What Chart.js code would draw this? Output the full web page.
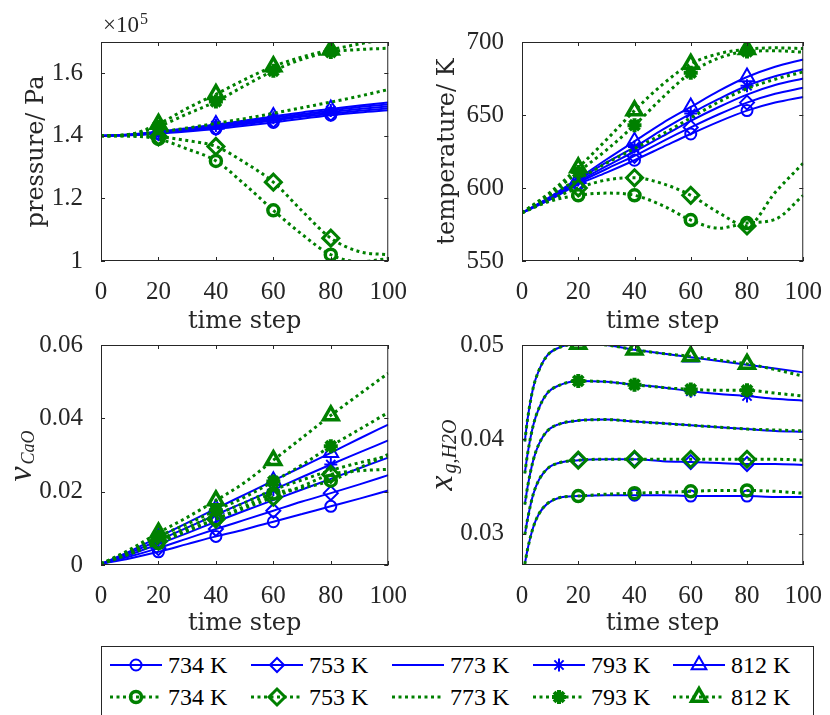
<!DOCTYPE html>
<html>
<head>
<meta charset="utf-8">
<title>Decomposition runs</title>
<script src="https://cdn.jsdelivr.net/npm/chart.js@4.4.1/dist/chart.umd.min.js"></script>
<style>
  body { margin: 0; width: 830px; height: 715px; position: relative; overflow: hidden; background: #fff; }
  canvas.plot { position: absolute; }
  #legendBox { position: absolute; left: 101px; top: 646px; width: 713px; height: 90px; border: 1px solid #262626; box-sizing: border-box; background: #fff; }
  .item { position: absolute; height: 30px; display: flex; align-items: center; font: 24px "Liberation Serif", serif; color: #000; white-space: nowrap; }
  .item canvas { margin-right: 6px; }
</style>
</head>
<body>
<canvas id="cPressure" class="plot"></canvas>
<canvas id="cTemp" class="plot"></canvas>
<canvas id="cNu" class="plot"></canvas>
<canvas id="cXg" class="plot"></canvas>
<div id="legendBox"></div>
<script>
// ---- data ----
const TEMPS = ['734 K', '753 K', '773 K', '793 K', '812 K'];
const STEPS = [0, 10, 20, 30, 40, 50, 60, 70, 80, 90, 100];
const STEPS_XG = [1, 2, 4, 6, 9, 13, 20, 30, 40, 50, 60, 70, 80, 90, 100];
const MARKER_STEPS = [20, 40, 60, 80];

const X_TICKS = [0, 20, 40, 60, 80, 100];
const P_TICKS = [1, 1.2, 1.4, 1.6];
const T_TICKS = [550, 600, 650, 700];
const NU_TICKS = [0, 0.02, 0.04, 0.06];
const XG_TICKS = [0.03, 0.04, 0.05];

// pressure in 1e5 Pa, one row per temperature (734, 753, 773, 793, 812 K)
const pressureBlue = [
  [1.400, 1.402, 1.407, 1.414, 1.422, 1.432, 1.443, 1.455, 1.466, 1.475, 1.482],
  [1.400, 1.403, 1.409, 1.417, 1.426, 1.437, 1.449, 1.461, 1.471, 1.480, 1.488],
  [1.400, 1.403, 1.410, 1.419, 1.430, 1.441, 1.453, 1.465, 1.476, 1.486, 1.494],
  [1.400, 1.404, 1.412, 1.422, 1.433, 1.445, 1.458, 1.470, 1.481, 1.492, 1.500],
  [1.400, 1.404, 1.413, 1.424, 1.436, 1.449, 1.462, 1.475, 1.486, 1.497, 1.507]
];
const pressureGreen = [
  [1.400, 1.399, 1.390, 1.358, 1.320, 1.245, 1.162, 1.085, 1.020, 0.998, 1.008],
  [1.400, 1.400, 1.397, 1.385, 1.366, 1.315, 1.252, 1.160, 1.073, 1.030, 1.020],
  [1.400, 1.403, 1.412, 1.425, 1.440, 1.455, 1.472, 1.490, 1.508, 1.527, 1.548],
  [1.400, 1.404, 1.430, 1.470, 1.510, 1.560, 1.608, 1.645, 1.668, 1.676, 1.680],
  [1.400, 1.405, 1.438, 1.488, 1.533, 1.580, 1.622, 1.652, 1.675, 1.694, 1.710]
];

// temperature in K
const tempBlue = [
  [583, 592, 602.5, 610.5, 619, 628, 637, 645.5, 653, 658.5, 662.4],
  [583, 592.5, 603.5, 613, 622, 632, 641.5, 650.5, 658.5, 664.5, 668.6],
  [583, 593, 604.5, 615, 625, 635.5, 646, 655.5, 664, 670.5, 675],
  [583, 593.5, 605.5, 617.5, 628, 640, 651, 661, 670, 676.5, 681.3],
  [583, 594, 606.5, 619.5, 632, 644.5, 655.5, 666.5, 676, 683, 688]
];
const tempGreen = [
  [583, 591, 595, 596.5, 595, 588, 578, 572.5, 576, 578.5, 595],
  [583, 592, 600, 605.5, 607, 603, 595, 583, 574, 597, 617],
  [583, 595, 606, 617, 627, 637, 648, 659, 668, 674.5, 679.5],
  [583, 596, 611, 626, 643, 662, 679, 689, 693.5, 694, 693],
  [583, 597, 614, 633, 653, 671, 685, 692, 695, 696, 695.5]
];

// nu_CaO
const nuBlue = [
  [0.0003, 0.0018, 0.0036, 0.0057, 0.0078, 0.0097, 0.0118, 0.0139, 0.0160, 0.0181, 0.0203],
  [0.0003, 0.0023, 0.0046, 0.0072, 0.0098, 0.0123, 0.0148, 0.0173, 0.0196, 0.0220, 0.0245],
  [0.0003, 0.0028, 0.0057, 0.0087, 0.0118, 0.0148, 0.0177, 0.0206, 0.0235, 0.0264, 0.0293],
  [0.0003, 0.0033, 0.0067, 0.0102, 0.0137, 0.0171, 0.0205, 0.0240, 0.0274, 0.0307, 0.0340],
  [0.0003, 0.0037, 0.0076, 0.0115, 0.0154, 0.0192, 0.0230, 0.0268, 0.0306, 0.0345, 0.0383]
];
const nuGreen = [
  [0.0003, 0.0030, 0.0060, 0.0092, 0.0125, 0.0160, 0.0195, 0.0210, 0.0230, 0.0265, 0.0302],
  [0.0003, 0.0032, 0.0065, 0.0095, 0.0125, 0.0155, 0.0185, 0.0215, 0.0247, 0.0257, 0.0261],
  [0.0003, 0.0033, 0.0068, 0.0102, 0.0137, 0.0170, 0.0205, 0.0232, 0.0258, 0.0279, 0.0297],
  [0.0003, 0.0038, 0.0078, 0.0112, 0.0149, 0.0185, 0.0228, 0.0273, 0.0324, 0.0370, 0.0416],
  [0.0003, 0.0042, 0.0088, 0.0130, 0.0176, 0.0225, 0.0286, 0.0347, 0.0408, 0.0466, 0.0523]
];

// x_g,H2O (sampled more densely at the start)
const xgBlue = [
  [0.0268, 0.0284, 0.0307, 0.0321, 0.0332, 0.0338, 0.0340, 0.0341, 0.0341, 0.0341, 0.0340, 0.0340, 0.0340, 0.0339, 0.0339],
  [0.0299, 0.0316, 0.0342, 0.0357, 0.0369, 0.0375, 0.0378, 0.0379, 0.0379, 0.0377, 0.0376, 0.0375, 0.0374, 0.0374, 0.0373],
  [0.0331, 0.0350, 0.0378, 0.0395, 0.0409, 0.0416, 0.0420, 0.0421, 0.0419, 0.0417, 0.0415, 0.0413, 0.0411, 0.0409, 0.0408],
  [0.0364, 0.0385, 0.0415, 0.0433, 0.0449, 0.0457, 0.0462, 0.0461, 0.0458, 0.0455, 0.0451, 0.0448, 0.0446, 0.0443, 0.0441],
  [0.0398, 0.0422, 0.0455, 0.0473, 0.0489, 0.0497, 0.0501, 0.0500, 0.0495, 0.0491, 0.0487, 0.0483, 0.0479, 0.0475, 0.0471]
];
const xgGreen = [
  [0.0268, 0.0284, 0.0307, 0.0321, 0.0332, 0.0338, 0.0340, 0.0342, 0.0343, 0.0344, 0.0345, 0.0346, 0.0346, 0.0345, 0.0343],
  [0.0299, 0.0316, 0.0342, 0.0357, 0.0369, 0.0375, 0.0378, 0.0379, 0.0379, 0.0379, 0.0379, 0.0379, 0.0379, 0.0379, 0.0378],
  [0.0331, 0.0350, 0.0378, 0.0395, 0.0409, 0.0416, 0.0420, 0.0421, 0.0419, 0.0417, 0.0415, 0.0413, 0.0411, 0.0410, 0.0409],
  [0.0364, 0.0385, 0.0415, 0.0433, 0.0449, 0.0457, 0.0462, 0.0461, 0.0458, 0.0455, 0.0453, 0.0452, 0.0452, 0.0449, 0.0446],
  [0.0398, 0.0422, 0.0455, 0.0473, 0.0489, 0.0497, 0.0501, 0.0500, 0.0495, 0.0491, 0.0488, 0.0484, 0.0480, 0.0474, 0.0467]
];

// ---- styling ----
const INK = '#262626';
const BLUE = '#0000ff';
const GREEN = '#008000';
const SERIF = '"Liberation Serif", "Times New Roman", serif';
const TICK_FONT = { family: SERIF, size: 25 };
const TITLE_FONT = { family: '"DejaVu Serif", serif', size: 24 };
const DOTS = [3, 3.5];
Chart.defaults.font.family = SERIF;

const BLUE_STYLE = [
  { shape: 'circle', r: 5.5, bw: 2 },
  { shape: 'rectRot', r: 7, bw: 2 },
  { shape: null },
  { shape: 'star', r: 6.5, bw: 2 },
  { shape: 'triangle', r: 8.5, bw: 2 }
];
const GREEN_STYLE = [
  { shape: 'circle', r: 5.5, bw: 3.5 },
  { shape: 'rectRot', r: 8, bw: 3 },
  { shape: null },
  { shape: 'star', r: 7, bw: 4 },
  { shape: 'triangle', r: 8.5, bw: 3.5 }
];

function series(label, xs, ys, color, st, dotted) {
  return {
    label: label,
    data: ys.map((v, k) => ({ x: xs[k], y: v })),
    borderColor: color,
    borderWidth: dotted ? 3 : 2,
    borderDash: dotted ? DOTS : [],
    borderCapStyle: 'butt',
    cubicInterpolationMode: 'monotone',
    fill: false,
    pointStyle: st.shape || 'circle',
    pointRadius: c => (st.shape && c.raw && MARKER_STEPS.includes(c.raw.x)) ? st.r : 0,
    pointHoverRadius: 0,
    pointBorderWidth: st.bw || 0,
    pointBorderColor: color,
    pointBackgroundColor: 'rgba(0,0,0,0)',
    order: dotted ? 0 : 1
  };
}

// box round the axes, inward ticks on all four sides, and the math labels
const matBox = {
  id: 'matBox',
  afterDraw(chart, args, opts) {
    const { ctx, chartArea: a, scales } = chart;
    const x = scales.x, y = scales.y;
    ctx.save();
    ctx.strokeStyle = INK;
    ctx.lineWidth = 1;
    ctx.strokeRect(a.left + 0.5, a.top + 0.5, a.right - a.left - 1, a.bottom - a.top - 1);
    ctx.beginPath();
    x.ticks.forEach(t => {
      const px = Math.round(x.getPixelForValue(t.value)) + 0.5;
      ctx.moveTo(px, a.bottom); ctx.lineTo(px, a.bottom - 4);
      ctx.moveTo(px, a.top); ctx.lineTo(px, a.top + 4);
    });
    y.ticks.forEach(t => {
      const py = Math.round(y.getPixelForValue(t.value)) + 0.5;
      ctx.moveTo(a.left, py); ctx.lineTo(a.left + 4, py);
      ctx.moveTo(a.right, py); ctx.lineTo(a.right - 4, py);
    });
    ctx.stroke();

    ctx.fillStyle = INK;
    if (opts.exponent) {
      ctx.textBaseline = 'alphabetic';
      ctx.font = '23px ' + SERIF;
      ctx.fillText('\u00d710', opts.exponent.x, opts.exponent.y);
      const w = ctx.measureText('\u00d710').width;
      ctx.font = '16px ' + SERIF;
      ctx.fillText('5', opts.exponent.x + w + 1, opts.exponent.y - 8);
    }
    if (opts.math) {
      const m = opts.math;
      ctx.translate(m.x, m.y);
      ctx.rotate(-Math.PI / 2);
      ctx.textBaseline = 'alphabetic';
      ctx.font = 'italic 34px ' + SERIF;
      const w1 = ctx.measureText(m.main).width;
      ctx.font = 'italic ' + m.subSize + 'px ' + SERIF;
      const w2 = ctx.measureText(m.sub).width;
      const x0 = -(w1 + w2 + 2) / 2;
      ctx.font = 'italic 34px ' + SERIF;
      ctx.fillText(m.main, x0, 0);
      ctx.font = 'italic ' + m.subSize + 'px ' + SERIF;
      ctx.fillText(m.sub, x0 + w1 + 2, m.drop);
    }
    ctx.restore();
  }
};

const PANELS = [
  { id: 'cPressure', left: 0, top: 0, w: 415, h: 336, area: { l: 101, t: 42, r: 389, b: 261 },
    xs: STEPS, blue: pressureBlue, green: pressureGreen, min: 1.0, max: 1.7, yTicks: P_TICKS,
    yTitle: 'pressure/ Pa', yTitlePad: 22, exponent: { x: 103, y: 32 } },
  { id: 'cTemp', left: 415, top: 0, w: 415, h: 336, area: { l: 522, t: 42, r: 810, b: 261 },
    xs: STEPS, blue: tempBlue, green: tempGreen, min: 550, max: 700, yTicks: T_TICKS,
    yTitle: 'temperature/ K', yTitlePad: 18 },
  { id: 'cNu', left: 0, top: 320, w: 415, h: 318, area: { l: 101, t: 343, r: 389, b: 565 },
    xs: STEPS, blue: nuBlue, green: nuGreen, min: 0, max: 0.06, yTicks: NU_TICKS,
    math: { main: '\u03bd', sub: 'CaO', subSize: 18, drop: 3, px: 31, py: 456 } },
  { id: 'cXg', left: 415, top: 320, w: 415, h: 318, area: { l: 522, t: 343, r: 810, b: 565 },
    xs: STEPS_XG, blue: xgBlue, green: xgGreen, min: 0.0267, max: 0.05, yTicks: XG_TICKS,
    math: { main: 'x', sub: 'g,H2O', subSize: 20, drop: 4, px: 452, py: 455 } }
];

PANELS.forEach(p => {
  const cv = document.getElementById(p.id);
  cv.width = p.w; cv.height = p.h;
  cv.style.left = p.left + 'px'; cv.style.top = p.top + 'px';

  const datasets = [];
  TEMPS.forEach((t, i) => datasets.push(series(t, p.xs, p.blue[i], BLUE, BLUE_STYLE[i], false)));
  TEMPS.forEach((t, i) => datasets.push(series(t, p.xs, p.green[i], GREEN, GREEN_STYLE[i], true)));

  const boxOpts = {};
  if (p.exponent) boxOpts.exponent = { x: p.exponent.x - p.left, y: p.exponent.y - p.top };
  if (p.math) boxOpts.math = Object.assign({}, p.math, { x: p.math.px - p.left, y: p.math.py - p.top });

  new Chart(cv, {
    type: 'line',
    data: { datasets: datasets },
    plugins: [matBox],
    options: {
      responsive: false,
      animation: false,
      devicePixelRatio: 1,
      layout: { padding: { left: 0, top: p.area.t - p.top, right: p.left + p.w - p.area.r, bottom: 0 } },
      plugins: { legend: { display: false }, tooltip: { enabled: false }, matBox: boxOpts },
      scales: {
        x: {
          type: 'linear', min: 0, max: 100,
          afterBuildTicks: s => { s.ticks = X_TICKS.map(v => ({ value: v })); },
          afterFit: s => { s.height = p.top + p.h - p.area.b; },
          grid: { display: false }, border: { display: false },
          ticks: { font: TICK_FONT, color: INK, padding: 8, maxRotation: 0, autoSkip: false, callback: v => String(v) },
          title: { display: true, text: 'time step', font: TITLE_FONT, color: INK, padding: 0 }
        },
        y: {
          type: 'linear', min: p.min, max: p.max,
          afterBuildTicks: s => { s.ticks = p.yTicks.map(v => ({ value: v })); },
          afterFit: s => { s.width = p.area.l - p.left; },
          grid: { display: false }, border: { display: false },
          ticks: { font: TICK_FONT, color: INK, padding: 10, autoSkip: false, callback: v => String(+v.toFixed(4)) },
          title: p.yTitle
            ? { display: true, text: p.yTitle, font: TITLE_FONT, color: INK, padding: { top: p.yTitlePad, bottom: 0 } }
            : { display: false }
        }
      }
    }
  });
});

// ---- legend: two rows, simulation (blue) over model (green) ----
const LEG_X = [110, 251, 392, 533, 673];
const LEG_ROWS = [
  { cy: 665, color: BLUE, styles: BLUE_STYLE, dotted: false },
  { cy: 697, color: GREEN, styles: GREEN_STYLE, dotted: true }
];
LEG_ROWS.forEach(row => {
  TEMPS.forEach((t, i) => {
    const div = document.createElement('div');
    div.className = 'item';
    div.style.left = LEG_X[i] + 'px';
    div.style.top = (row.cy - 15) + 'px';
    const c = document.createElement('canvas');
    c.width = 52; c.height = 30;
    const g = c.getContext('2d');
    g.strokeStyle = row.color;
    g.lineWidth = row.dotted ? 3 : 2;
    g.setLineDash(row.dotted ? DOTS : []);
    g.beginPath(); g.moveTo(0, 15); g.lineTo(52, 15); g.stroke();
    g.setLineDash([]);
    const st = row.styles[i];
    if (st.shape) {
      g.fillStyle = 'rgba(0,0,0,0)';
      g.lineWidth = st.bw;
      Chart.helpers.drawPoint(g, { pointStyle: st.shape, radius: st.r, rotation: 0, borderWidth: st.bw }, 26, 15);
    }
    const span = document.createElement('span');
    span.textContent = t;
    div.appendChild(c);
    div.appendChild(span);
    document.body.appendChild(div);
  });
});
</script>
</body>
</html>
